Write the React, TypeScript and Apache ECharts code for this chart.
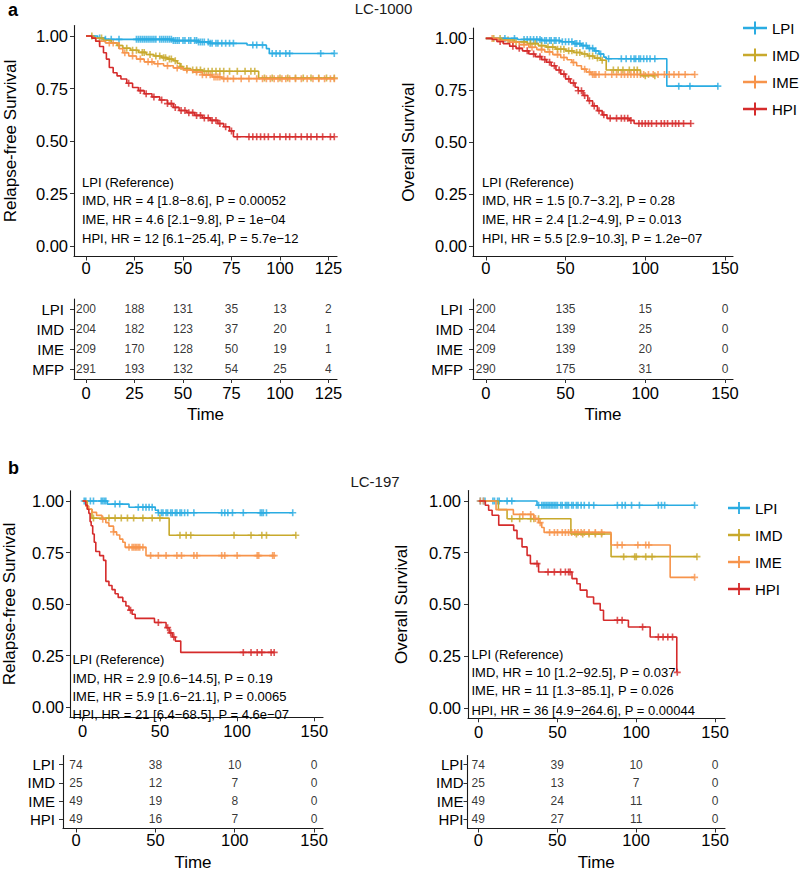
import React, { useEffect, useRef } from 'react';
import * as echarts from 'echarts';

const FONT = '"Liberation Sans", Arial, Helvetica, sans-serif';
const GROUPS = ['LPI', 'IMD', 'IME', 'HPI'];
const GROUP_COLORS = ['#2AACE2', '#C8A92C', '#F7944B', '#D52B2B'];

// ---------- LC-1000, relapse-free survival: [time, survival] after each event ----------
const rfs1000LPI = [[0, 1], [6, 0.99], [10, 0.984], [45, 0.978], [58, 0.972], [64, 0.965], [83, 0.957], [93, 0.94], [94.5, 0.917]];
const rfs1000LPICens = [7, 10, 13, 17, 26, 27, 28, 29, 30, 31, 32, 33, 34, 35, 36, 38, 39, 40, 41, 42, 43, 44, 45, 46, 47, 48, 50, 51, 53, 54, 56, 57, 58, 59, 60, 61, 63, 64, 65, 67, 68, 70, 72, 74, 76, 86, 88, 91, 96, 98, 100, 103, 105, 121, 128];
const rfs1000IMD = [[0, 1], [4, 0.99], [9, 0.98], [13, 0.968], [16, 0.955], [19, 0.942], [23, 0.932], [27, 0.922], [31, 0.912], [35, 0.905], [39, 0.897], [42, 0.89], [45, 0.882], [47, 0.87], [48.5, 0.855], [50, 0.845], [54, 0.838], [60, 0.832], [89, 0.8]];
const rfs1000IMDCens = [3, 8, 17, 21, 24, 26, 29, 30, 33, 36, 38, 40, 41, 43, 44, 46, 49, 52, 55, 57, 59, 61, 63, 65, 67, 69, 71, 74, 78, 82, 85, 87, 92, 96, 100, 104, 108, 112, 116, 120, 124, 128];
const rfs1000IME = [[0, 1], [3, 0.99], [5, 0.975], [10, 0.967], [17, 0.94], [19, 0.92], [22, 0.905], [26, 0.89], [30, 0.877], [35, 0.868], [40, 0.858], [45, 0.848], [50, 0.838], [55, 0.828], [60, 0.815], [65, 0.805], [70, 0.797]];
const rfs1000IMECens = [7, 12, 14, 20, 24, 28, 32, 34, 37, 42, 47, 52, 57, 60, 62, 64, 66, 67, 68, 69, 71, 73, 76, 80, 84, 88, 91, 93, 95, 97, 99, 101, 103, 105, 108, 111, 114, 117, 120, 123, 126, 128];
const rfs1000HPI = [[0, 1], [3, 0.99], [5, 0.975], [7, 0.95], [9, 0.92], [10.5, 0.89], [12, 0.85], [14, 0.825], [16, 0.81], [18, 0.795], [21, 0.775], [24, 0.755], [27, 0.74], [30, 0.725], [34, 0.71], [38, 0.695], [42, 0.678], [45, 0.66], [48, 0.645], [52, 0.635], [56, 0.622], [60, 0.61], [64, 0.598], [68, 0.583], [71, 0.568], [74, 0.548], [76, 0.52]];
const rfs1000HPICens = [22, 28, 31, 35, 39, 42, 44, 46, 49, 51, 53, 55, 57, 59, 61, 63, 65, 67, 69, 72, 75, 78, 84, 86, 88, 90, 92, 94, 97, 100, 103, 105, 108, 111, 114, 116, 119, 122, 126, 128];

// ---------- LC-1000, overall survival ----------
const os1000LPI = [[0, 1], [20, 0.995], [35, 0.99], [47, 0.984], [55, 0.975], [60, 0.965], [64, 0.952], [68, 0.94], [71, 0.925], [74, 0.91], [75.5, 0.902], [113.5, 0.77]];
const os1000LPICens = [12, 18, 24, 26, 28, 30, 32, 34, 35, 37, 38, 40, 41, 43, 44, 46, 48, 50, 52, 54, 56, 57, 59, 61, 63, 65, 67, 69, 72, 77, 85, 88, 91, 93, 94, 96, 97, 99, 101, 103, 106, 121, 128, 145.5];
const os1000IMD = [[0, 1], [10, 0.992], [18, 0.983], [26, 0.975], [33, 0.965], [38, 0.958], [44, 0.948], [50, 0.94], [55, 0.932], [60, 0.925], [64, 0.915], [68, 0.905], [72, 0.895], [75.5, 0.848], [97, 0.82]];
const os1000IMDCens = [5, 9, 14, 19, 24, 28, 31, 35, 39, 42, 45, 47, 49, 52, 54, 57, 59, 62, 65, 67, 70, 73, 80, 83, 86, 90, 93, 95, 100, 106];
const os1000IME = [[0, 1], [8, 0.99], [15, 0.982], [21, 0.97], [27, 0.957], [32, 0.946], [37, 0.935], [42, 0.922], [47, 0.908], [51, 0.897], [54, 0.884], [57, 0.868], [60, 0.852], [63, 0.838], [66, 0.826]];
const os1000IMECens = [4, 11, 17, 24, 29, 35, 40, 45, 49, 55, 62, 65, 67, 68, 69, 71, 75, 79, 82, 85, 87, 89, 91, 93, 95, 97, 99, 102, 105, 108, 112, 115, 118, 121, 125, 131];
const os1000HPI = [[0, 1], [4, 0.995], [7, 0.985], [11, 0.975], [15, 0.962], [19, 0.952], [23, 0.94], [27, 0.925], [31, 0.912], [35, 0.898], [38, 0.885], [41, 0.868], [44, 0.848], [47, 0.828], [50, 0.805], [53, 0.785], [56, 0.765], [58, 0.748], [61, 0.725], [64, 0.7], [67, 0.675], [70, 0.652], [73, 0.632], [76, 0.615], [90, 0.605], [93, 0.59]];
const os1000HPICens = [9, 17, 21, 26, 30, 34, 37, 40, 43, 46, 49, 52, 55, 58, 60, 62, 65, 68, 71, 74, 78, 82, 85, 87, 89, 91, 96, 98, 100, 102, 104, 107, 110, 112, 114, 117, 119, 121, 124, 128.5];

// ---------- LC-197, relapse-free survival ----------
const rfs197LPI = [[0, 1], [16, 0.985], [30, 0.97], [47, 0.955], [49, 0.943]];
const rfs197LPICens = [1, 2, 5, 7, 12, 13, 14, 15, 21, 24, 36, 39, 41, 43, 45, 49, 51, 52, 54, 55, 57, 58, 60, 61, 63, 64, 66, 68, 72, 90, 92, 94, 97, 104, 115, 116, 117, 119, 136];
const rfs197IMD = [[0, 1], [3, 0.96], [6, 0.917], [56, 0.834]];
const rfs197IMDCens = [7, 17, 21, 25, 29, 33, 39, 45, 50, 63, 67, 70, 98, 109, 116, 119, 138];
const rfs197IME = [[0, 1], [2, 0.975], [4, 0.96], [6, 0.945], [9, 0.93], [12.5, 0.912], [15, 0.895], [17, 0.878], [20, 0.85], [22, 0.835], [24, 0.815], [26, 0.8], [27.5, 0.775], [41, 0.735]];
const rfs197IMECens = [13, 20, 30, 32, 33, 34, 35, 36, 37, 39, 44, 49, 54, 61, 64, 72, 74, 90, 92, 100, 113, 114, 123, 124];
const rfs197HPI = [[0, 1], [2, 0.98], [3, 0.96], [4, 0.94], [4.8, 0.9], [5.5, 0.88], [6.5, 0.84], [7.5, 0.8], [8.5, 0.755], [11, 0.735], [13.5, 0.712], [15, 0.61], [17, 0.59], [19, 0.57], [21, 0.55], [23, 0.532], [26, 0.512], [28, 0.49], [30, 0.47], [32, 0.45], [34, 0.43], [46.5, 0.41], [54, 0.385], [56, 0.36], [58, 0.34], [60, 0.32], [63.5, 0.265]];
const rfs197HPICens = [31, 49, 55, 57, 59, 104, 109, 113, 116, 122, 124];

// ---------- LC-197, overall survival ----------
const os197LPI = [[0, 1], [37, 0.979]];
const os197LPICens = [1, 3, 4, 9, 10, 12, 13, 18, 21, 38, 40, 41, 42, 43, 44, 45, 46, 47, 48, 49, 50, 52, 53, 55, 56, 57, 59, 60, 62, 63, 65, 67, 70, 73, 88, 91, 93, 97, 102, 114, 116, 118, 137];
const os197IMD = [[0, 1], [12.5, 0.958], [18, 0.914], [58.5, 0.84], [84, 0.731]];
const os197IMDCens = [21, 26, 33, 35, 38, 62, 66, 70, 74, 78, 92, 99, 100, 106, 110, 138.5];
const os197IME = [[0, 1], [11, 0.958], [22, 0.935], [35, 0.915], [38, 0.895], [40, 0.872], [41.5, 0.848], [84, 0.787], [121.5, 0.631]];
const os197IMECens = [1, 3, 28, 33, 36, 39, 45, 48, 50, 53, 55, 57, 59, 61, 63, 65, 67, 70, 74, 78, 88, 91, 101, 106, 108, 137];
const os197HPI = [[0, 1], [4.2, 0.979], [6.3, 0.955], [8.5, 0.931], [12.7, 0.883], [22.2, 0.858], [24.3, 0.818], [27.5, 0.778], [30.7, 0.737], [32.8, 0.697], [38, 0.657], [59.2, 0.625], [62.3, 0.6], [64.4, 0.569], [68.7, 0.536], [72.9, 0.504], [77.1, 0.472], [79.2, 0.424], [95, 0.391], [108.8, 0.343], [125.7, 0.172]];
const os197HPICens = [37, 44, 48, 52, 55, 57, 58, 88, 91, 104, 114, 117, 120, 123, 126];

// ---------- Cox model summaries ----------
const notesRfs1000 = ['LPI (Reference)', 'IMD, HR = 4 [1.8\u22128.6], P = 0.00052', 'IME, HR = 4.6 [2.1\u22129.8], P = 1e\u221204', 'HPI, HR = 12 [6.1\u221225.4], P = 5.7e\u221212'];
const notesOs1000 = ['LPI (Reference)', 'IMD, HR = 1.5 [0.7\u22123.2], P = 0.28', 'IME, HR = 2.4 [1.2\u22124.9], P = 0.013', 'HPI, HR = 5.5 [2.9\u221210.3], P = 1.2e\u221207'];
const notesRfs197 = ['LPI (Reference)', 'IMD, HR = 2.9 [0.6\u221214.5], P = 0.19', 'IME, HR = 5.9 [1.6\u221221.1], P = 0.0065', 'HPI, HR = 21 [6.4\u221268.5], P = 4.6e\u221207'];
const notesOs197 = ['LPI (Reference)', 'IMD, HR = 10 [1.2\u221292.5], P = 0.037', 'IME, HR = 11 [1.3\u221285.1], P = 0.026', 'HPI, HR = 36 [4.9\u2212264.6], P = 0.00044'];

// ---------- Numbers at risk ----------
const ticks125 = [0, 25, 50, 75, 100, 125];
const ticks150 = [0, 50, 100, 150];
const survTicks = [0, 0.25, 0.5, 0.75, 1];
const riskRows1000 = ['LPI', 'IMD', 'IME', 'MFP'];
const riskRows197 = ['LPI', 'IMD', 'IME', 'HPI'];
const riskRfs1000LPI = [200, 188, 131, 35, 13, 2];
const riskRfs1000IMD = [204, 182, 123, 37, 20, 1];
const riskRfs1000IME = [209, 170, 128, 50, 19, 1];
const riskRfs1000MFP = [291, 193, 132, 54, 25, 4];
const riskOs1000LPI = [200, 135, 15, 0];
const riskOs1000IMD = [204, 139, 25, 0];
const riskOs1000IME = [209, 139, 20, 0];
const riskOs1000MFP = [290, 175, 31, 0];
const riskRfs197LPI = [74, 38, 10, 0];
const riskRfs197IMD = [25, 12, 7, 0];
const riskRfs197IME = [49, 19, 8, 0];
const riskRfs197HPI = [49, 16, 7, 0];
const riskOs197LPI = [74, 39, 10, 0];
const riskOs197IMD = [25, 13, 7, 0];
const riskOs197IME = [49, 24, 11, 0];
const riskOs197HPI = [49, 27, 11, 0];

const PLUS = 'path://M2.3,0H3.7V2.3H6V3.7H3.7V6H2.3V3.7H0V2.3H2.3Z';
const KEY_ICON = 'path://M0,5.2H24V7.8H0Z M11,0H13V13H11Z';

function survivalAt(steps: number[][], t: number) {
  let s = 1;
  for (const [ti, si] of steps) {
    if (ti <= t) s = si;
    else break;
  }
  return s;
}

const kmPanels = [
  {
    grid: { left: 74, top: 25.5, width: 263, height: 231 },
    xMin: -6.2, xMax: 129.4, ticks: ticks125, yTitle: 'Relapse-free Survival', nameGap: 55.5,
    yLabelMargin: 6, xLabelMargin: 3,
    curves: [[rfs1000LPI, rfs1000LPICens], [rfs1000IMD, rfs1000IMDCens], [rfs1000IME, rfs1000IMECens], [rfs1000HPI, rfs1000HPICens]],
    notes: notesRfs1000, noteX: 82, noteY: [182.5, 200.5, 219.5, 238.5],
  },
  {
    grid: { left: 473, top: 28, width: 260, height: 228.5 },
    xMin: -8, xMax: 155, ticks: ticks150, yTitle: 'Overall Survival', nameGap: 56,
    yLabelMargin: 6, xLabelMargin: 3,
    curves: [[os1000LPI, os1000LPICens], [os1000IMD, os1000IMDCens], [os1000IME, os1000IMECens], [os1000HPI, os1000HPICens]],
    notes: notesOs1000, noteX: 482, noteY: [182.5, 200.5, 219.5, 238.5],
  },
  {
    grid: { left: 63, top: 490.7, width: 260, height: 226.6 },
    xMin: -8.2, xMax: 155.6, ticks: ticks150, yTitle: 'Relapse-free Survival', nameGap: 52,
    yLabelMargin: 6, xLabelMargin: 5,
    curves: [[rfs197LPI, rfs197LPICens], [rfs197IMD, rfs197IMDCens], [rfs197IME, rfs197IMECens], [rfs197HPI, rfs197HPICens]],
    notes: notesRfs197, noteX: 72.5, noteY: [659.5, 678, 696.5, 714.5],
  },
  {
    grid: { left: 468, top: 490.6, width: 257, height: 227.7 },
    xMin: -6.8, xMax: 156.3, ticks: ticks150, yTitle: 'Overall Survival', nameGap: 58,
    yLabelMargin: 7, xLabelMargin: 5,
    curves: [[os197LPI, os197LPICens], [os197IMD, os197IMDCens], [os197IME, os197IMECens], [os197HPI, os197HPICens]],
    notes: notesOs197, noteX: 471.5, noteY: [654, 672, 690.5, 710],
  },
];

const riskTables = [
  {
    grid: { left: 74, top: 299, width: 263, height: 80 }, xMin: -6.2, xMax: 129.4, ticks: ticks125,
    rows: riskRows1000, counts: [riskRfs1000LPI, riskRfs1000IMD, riskRfs1000IME, riskRfs1000MFP],
    rowMargin: 10, xLabelMargin: 5, nameGap: 27,
  },
  {
    grid: { left: 473, top: 299, width: 260, height: 80 }, xMin: -8, xMax: 155, ticks: ticks150,
    rows: riskRows1000, counts: [riskOs1000LPI, riskOs1000IMD, riskOs1000IME, riskOs1000MFP],
    rowMargin: 10, xLabelMargin: 5, nameGap: 27,
  },
  {
    grid: { left: 63, top: 755.5, width: 260, height: 80 }, xMin: -8.2, xMax: 155.6, ticks: ticks150,
    rows: riskRows197, counts: [riskRfs197LPI, riskRfs197IMD, riskRfs197IME, riskRfs197HPI],
    rowMargin: 8, xLabelMargin: 3, nameGap: 25.5,
  },
  {
    grid: { left: 467.5, top: 755.5, width: 257.5, height: 80 }, xMin: -6.8, xMax: 156.3, ticks: ticks150,
    rows: riskRows197, counts: [riskOs197LPI, riskOs197IMD, riskOs197IME, riskOs197HPI],
    rowMargin: 4, xLabelMargin: 3, nameGap: 25.5,
  },
];

const AXIS_COLOR = '#1a1a1a';
const axisLine = { show: true, onZero: false, lineStyle: { color: AXIS_COLOR, width: 1.1 } };
const tickStyle = { color: '#333', width: 1 };

function buildOption() {
  const grids: any[] = [];
  const xAxes: any[] = [];
  const yAxes: any[] = [];
  const lines: any[] = [];
  const marks: any[] = [];
  const tables: any[] = [];
  const graphics: any[] = [];

  kmPanels.forEach((p, i) => {
    grids.push({ ...p.grid });
    xAxes.push({
      type: 'value', gridIndex: i, min: p.xMin, max: p.xMax,
      axisLine, splitLine: { show: false },
      axisTick: { show: true, length: 4, lineStyle: tickStyle, customValues: p.ticks },
      axisLabel: { customValues: p.ticks, fontSize: 16.5, color: '#000', margin: p.xLabelMargin, fontFamily: FONT },
    });
    yAxes.push({
      type: 'value', gridIndex: i, min: -0.05, max: 1.05,
      axisLine, splitLine: { show: false },
      axisTick: { show: true, length: 4, lineStyle: tickStyle, customValues: survTicks },
      axisLabel: {
        customValues: survTicks, fontSize: 16.5, color: '#000', margin: p.yLabelMargin, fontFamily: FONT,
        formatter: (v: number) => v.toFixed(2),
      },
      name: p.yTitle, nameLocation: 'middle', nameGap: p.nameGap,
      nameTextStyle: { fontSize: 17, color: '#000', fontFamily: FONT },
    });
    p.curves.forEach(([steps, cens]: any, g: number) => {
      const last = steps[steps.length - 1][1];
      const end = Math.max(...cens);
      lines.push({
        type: 'line', name: GROUPS[g], xAxisIndex: i, yAxisIndex: i, step: 'end',
        symbol: 'none', silent: true,
        data: [...steps, [end, last]],
        lineStyle: { color: GROUP_COLORS[g], width: 1.6 },
        itemStyle: { color: GROUP_COLORS[g] },
      });
      marks.push({
        type: 'scatter', name: GROUPS[g], xAxisIndex: i, yAxisIndex: i, silent: true,
        symbol: PLUS, symbolSize: 7,
        data: cens.map((t: number) => [t, survivalAt(steps, t)]),
        itemStyle: { color: GROUP_COLORS[g] },
      });
    });
    p.notes.forEach((txt, k) => {
      graphics.push({
        type: 'text', x: p.noteX, y: p.noteY[k], z: 1,
        style: { text: txt, fontSize: 13, fill: '#000', align: 'left', verticalAlign: 'middle', fontFamily: FONT },
      });
    });
  });

  riskTables.forEach((t, j) => {
    const idx = kmPanels.length + j;
    grids.push({ ...t.grid });
    xAxes.push({
      type: 'value', gridIndex: idx, min: t.xMin, max: t.xMax,
      axisLine, splitLine: { show: false },
      axisTick: { show: true, length: 4, lineStyle: tickStyle, customValues: t.ticks },
      axisLabel: { customValues: t.ticks, fontSize: 16.5, color: '#000', margin: t.xLabelMargin, fontFamily: FONT },
      name: 'Time', nameLocation: 'middle', nameGap: t.nameGap,
      nameTextStyle: { fontSize: 17, color: '#000', fontFamily: FONT },
    });
    yAxes.push({
      type: 'category', gridIndex: idx, data: t.rows, inverse: true,
      axisLine, splitLine: { show: false },
      axisTick: { show: true, length: 4, alignWithLabel: true, interval: 0, lineStyle: tickStyle },
      axisLabel: { interval: 0, fontSize: 15, color: '#000', margin: t.rowMargin, fontFamily: FONT },
    });
    const data: any[] = [];
    t.rows.forEach((row, r) => {
      t.counts[r].forEach((n, c) => data.push([t.ticks[c], row, n]));
    });
    tables.push({
      type: 'scatter', xAxisIndex: idx, yAxisIndex: idx, silent: true,
      symbol: 'rect', symbolSize: 1, itemStyle: { color: 'rgba(0,0,0,0)' },
      label: {
        show: true, position: 'inside', color: '#000', fontSize: 12, fontFamily: FONT,
        formatter: (q: any) => String(q.value[2]),
      },
      data,
    });
  });

  graphics.push(
    { type: 'text', x: 8, y: 1, style: { text: 'a', fontSize: 18, fontWeight: 'bold', fill: '#000', verticalAlign: 'top', fontFamily: FONT } },
    { type: 'text', x: 8, y: 459, style: { text: 'b', fontSize: 18, fontWeight: 'bold', fill: '#000', verticalAlign: 'top', fontFamily: FONT } },
    { type: 'text', x: 383.5, y: 1, style: { text: 'LC-1000', fontSize: 15, fill: '#1a1a1a', align: 'center', verticalAlign: 'top', fontFamily: FONT } },
    { type: 'text', x: 375, y: 481, style: { text: 'LC-197', fontSize: 15, fill: '#1a1a1a', align: 'center', verticalAlign: 'middle', fontFamily: FONT } },
  );

  const legendBase = {
    orient: 'vertical', selectedMode: false, padding: 0,
    itemHeight: 13, itemGap: 12,
    textStyle: { fontSize: 15, color: '#000', lineHeight: 15, fontFamily: FONT },
    data: GROUPS.map((g) => ({ name: g, icon: KEY_ICON })),
  };

  return {
    animation: false,
    textStyle: { fontFamily: FONT },
    grid: grids,
    xAxis: xAxes,
    yAxis: yAxes,
    legend: [
      { ...legendBase, left: 743, top: 20.5, itemWidth: 24 },
      { ...legendBase, left: 728, top: 500.5, itemWidth: 22 },
    ],
    graphic: graphics,
    series: [...lines, ...marks, ...tables],
  };
}

export default function App() {
  const ref = useRef<HTMLDivElement>(null);
  useEffect(() => {
    document.body.style.margin = '0';
    if (!ref.current) return;
    const chart = echarts.init(ref.current, undefined, { renderer: 'svg' });
    chart.setOption(buildOption() as any);
    return () => chart.dispose();
  }, []);
  return <div ref={ref} style={{ width: 800, height: 872, background: '#fff' }} />;
}
